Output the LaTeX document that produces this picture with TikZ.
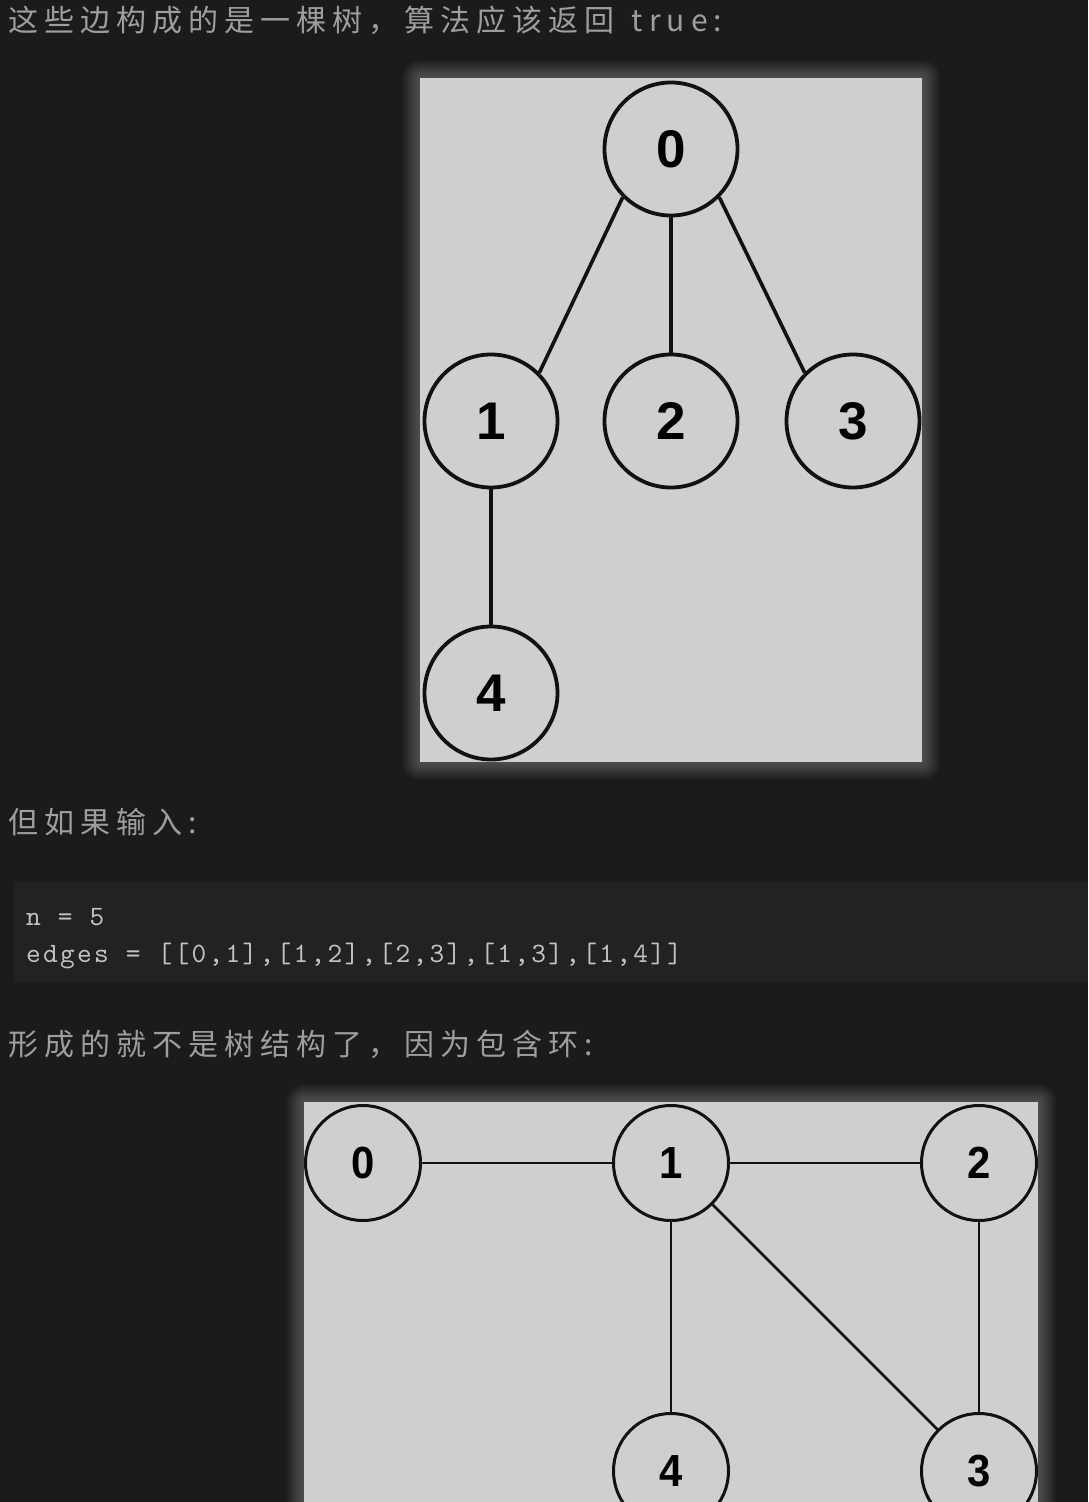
\documentclass[tikz,border=0pt]{standalone}
\usepackage{fontspec}
\setmainfont{Liberation Sans}
\newfontfamily\cjk[LetterSpace=20]{Noto Sans CJK SC}
\newfontfamily\narrowdigits[FakeStretch=0.93]{Liberation Sans}
\newfontfamily\codefont[LetterSpace=8.2]{lmmono10-regular.otf}
\usetikzlibrary{backgrounds}
\definecolor{page}{HTML}{1B1B1B}
\definecolor{codebg}{HTML}{222222}
\definecolor{prose}{HTML}{9E9E9E}
\definecolor{code}{HTML}{C2C2C2}
\definecolor{panel}{HTML}{CFCFCF}
\definecolor{ink}{HTML}{111111}

\begin{document}
\begin{tikzpicture}[
  x=1pt,
  y=-1pt,
  prose/.style={anchor=base west, inner sep=0pt, text=prose, font=\cjk\fontsize{30}{36}\selectfont},
  codeline/.style={anchor=base west, inner sep=0pt, text=code, font=\codefont\fontsize{28}{34}\selectfont},
  codebox/.style={fill=codebg, inner sep=0pt, anchor=north west, minimum width=1074pt, minimum height=100pt},
  panel/.style={fill=panel, inner sep=0pt, anchor=north west},
  vtx/.style={circle, draw=ink, line width=3.8pt, minimum size=133pt, inner sep=0pt, font=\bfseries\fontsize{53}{53}\selectfont},
  vtxs/.style={circle, draw=ink, line width=3pt, minimum size=115pt, inner sep=0pt, font=\narrowdigits\bfseries\fontsize{45}{45}\selectfont},
  link/.style={draw=ink, line width=3.6pt},
  thinlink/.style={draw=ink, line width=2.8pt}
]
  \useasboundingbox (0,0) rectangle (1088,1502);

  % prose and code
  \node[prose] (intro) at (8,31) {这些边构成的是一棵树，算法应该返回\hspace{5pt} true:};
  \node[prose] (but) at (8,833) {但如果输入:};
  \node[prose] (cycle) at (8,1055) {形成的就不是树结构了，因为包含环:};

  \node[codebox] (snippet) at (14,882) {};
  \node[codeline] (nline) at (26,925) {n = 5};
  \node[codeline] (eline) at (26,962) {edges = [[0,1],[1,2],[2,3],[1,3],[1,4]]};

  % the two figures
  \node[panel, minimum width=502pt, minimum height=684pt] (treebox) at (420,78) {};
  \node[panel, minimum width=734pt, minimum height=430pt] (loopbox) at (304,1102) {};

  \node[vtx] (n0) at (671,149) {0};
  \node[vtx] (n1) at (491,421) {1};
  \node[vtx] (n2) at (671,421) {2};
  \node[vtx] (n3) at (853,421) {3};
  \node[vtx] (n4) at (491,693) {4};

  \draw[link] (n0.south west) -- (n1.north east);
  \draw[link] (n0.south) -- (n2.north);
  \draw[link] (n0.south east) -- (n3.north west);
  \draw[link] (n1.south) -- (n4.north);

  \node[vtxs] (m0) at (363,1163) {0};
  \node[vtxs] (m1) at (671,1163) {1};
  \node[vtxs] (m2) at (979,1163) {2};
  \node[vtxs] (m4) at (671,1471) {4};
  \node[vtxs] (m3) at (979,1471) {3};

  \draw[thinlink] (m0) -- (m1);
  \draw[thinlink] (m1) -- (m2);
  \draw[thinlink] (m2) -- (m3);
  \draw[thinlink] (m1.south east) -- (m3.north west);
  \draw[thinlink] (m1) -- (m4);

  \begin{scope}[on background layer]
    \fill[page] (0,0) rectangle (1088,1502);
    \foreach \pnl in {treebox,loopbox}
      \foreach \g in {1,...,18}
        \fill[white, opacity=0.014, rounded corners=\g pt]
          ([xshift=-\g pt,yshift=\g pt]\pnl.north west) rectangle ([xshift=\g pt,yshift=-\g pt]\pnl.south east);
  \end{scope}
\end{tikzpicture}
\end{document}
